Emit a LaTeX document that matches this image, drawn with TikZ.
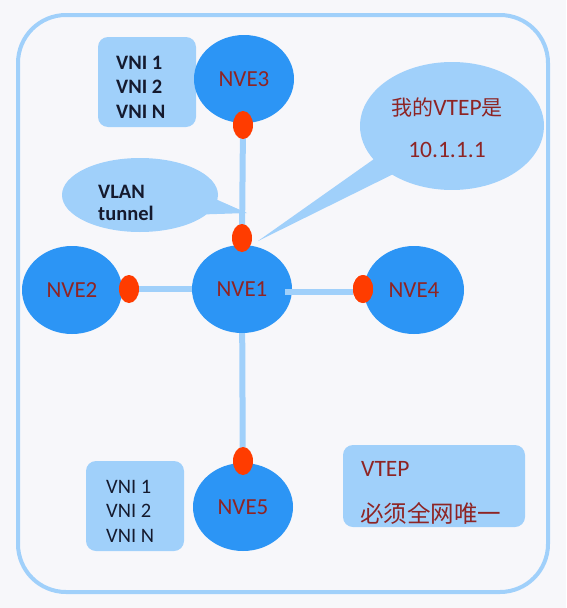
\documentclass[tikz,border=0pt]{standalone}
\usepackage{fontspec}
\setmainfont{Carlito}
\newfontfamily\cjk{Noto Sans CJK SC}
\usetikzlibrary{shapes.geometric,shapes.callouts,backgrounds}
\definecolor{pagebg}{HTML}{F7F7FA}
\definecolor{lightb}{HTML}{A0D0FA}
\definecolor{nveblue}{HTML}{2C95F5}
\definecolor{dotred}{HTML}{FF3C00}
\definecolor{darkred}{HTML}{8E2424}
\definecolor{navy}{HTML}{151A2E}
\tikzset{
  nve/.style={ellipse, fill=nveblue, minimum width=100pt, minimum height=88pt, inner sep=0pt,
    text=darkred, font=\fontsize{23}{26}\selectfont},
  portdot/.style={ellipse, fill=dotred, minimum width=20pt, minimum height=28pt, inner sep=0pt},
  link/.style={lightb, line width=6pt},
  infobox/.style={fill=lightb, rounded corners=10pt, draw=none},
  boxtext/.style={anchor=west, align=left, text=navy, inner sep=0pt},
  bubble/.style={ellipse callout, fill=lightb, draw=none, inner sep=0pt},
}
\begin{document}
\begin{tikzpicture}[x=1pt,y=-1pt]
\useasboundingbox (0,0) rectangle (566,608);
\begin{scope}[on background layer]
  \fill[pagebg] (0,0) rectangle (566,608);
  \draw[lightb, line width=4pt, rounded corners=48pt, fill=pagebg] (18,15) rectangle (548,592);
\end{scope}

% info boxes
\fill[infobox] (98,37) rectangle (196,127);
\node[boxtext, font=\bfseries\fontsize{20.5}{24.5}\selectfont] (vnitop) at (116,87) {VNI 1\\VNI 2\\VNI N};
\fill[infobox] (86,461) rectangle (184,551);
\node[boxtext, font=\fontsize{20.5}{24.5}\selectfont] (vnibot) at (106,511) {VNI 1\\VNI 2\\VNI N};
\fill[infobox] (343,445) rectangle (525,527);
\node[anchor=west, inner sep=0pt, text=darkred, font=\fontsize{23.5}{24}\selectfont] (vtep) at (361,469) {VTEP};
\node[anchor=west, inner sep=0pt, text=darkred, font=\cjk\fontsize{23.5}{24}\selectfont] (uniq) at (360,513) {必须全网唯一};

% callouts
\coordinate (tipA) at (258,241);
\coordinate (tipB) at (247,213);
\node[bubble, minimum width=184pt, minimum height=128pt, callout absolute pointer={(tipA)}, callout pointer arc=18]
  (bubA) at (452,126) {};
\node[text=darkred, font=\fontsize{23.5}{26}\selectfont] (bubAt1) at (447,108) {{\cjk\fontsize{21}{24}\selectfont 我的}VTEP{\cjk\fontsize{21}{24}\selectfont 是}};
\node[text=darkred, font=\fontsize{23.5}{26}\selectfont] (bubAt2) at (447,150) {10.1.1.1};
\node[bubble, minimum width=156pt, minimum height=74pt, callout absolute pointer={(tipB)}, callout pointer arc=24]
  (bubB) at (140,195) {};
\node[boxtext, font=\bfseries\fontsize{20.5}{22}\selectfont] (bubBt) at (98,203) {VLAN\\tunnel};

% NVE nodes
\node[nve] (n1) at (242,289) {NVE1};
\node[nve] (n2) at (72,290) {NVE2};
\node[nve] (n3) at (244,79) {NVE3};
\node[nve] (n4) at (414,290) {NVE4};
\node[nve] (n5) at (243,507) {NVE5};

% ports
\node[portdot] (p3) at (243,125) {};
\node[portdot] (p1) at (242,238) {};
\node[portdot] (p2) at (129,289) {};
\node[portdot] (p4) at (363,289) {};
\node[portdot] (p5) at (243,461) {};

% links
\begin{scope}[on background layer]
  \draw[link] (p3.center) -- (p1.center);
  \draw[link] (p2.center) -- (n1.center);
  \draw[link] (n5.center) -- (n1.center);
\end{scope}
\draw[link] (n1.east) ++(-7,3) coordinate (l4s) -- (p4.west |- l4s);
\node[portdot] at (p4) {};
\end{tikzpicture}
\end{document}
